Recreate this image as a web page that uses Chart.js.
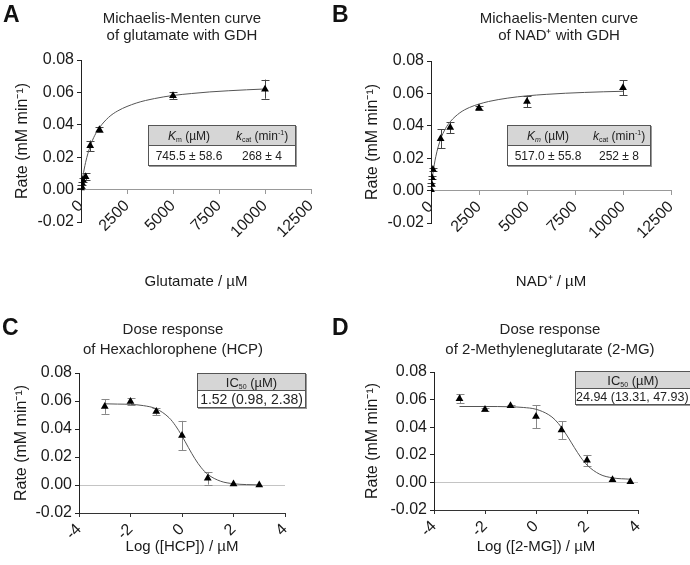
<!DOCTYPE html>
<html>
<head>
<meta charset="utf-8">
<script src="https://cdn.jsdelivr.net/npm/chart.js@4.4.1/dist/chart.umd.min.js"></script>
<style>
  body { margin: 0; background: #fff; font-family: "Liberation Sans", Arial, sans-serif; color: #222; }
  #wrap { position: relative; width: 690px; height: 565px; overflow: hidden; }
  .panel { position: absolute; }
  .letter { position: absolute; font-size: 23px; line-height: 22px; font-weight: bold; color: #111; }
  .ttl { position: absolute; width: 240px; text-align: center; font-size: 15px; color: #222; }
  table.stat { position: absolute; border-collapse: collapse; font-size: 12px; color: #222;
    box-shadow: 1px 1px 0 #999; }
  table.stat td { border: 1px solid #555; text-align: center; padding: 0; height: 19px; white-space: nowrap; }
  table.stat tr.hd td { background: #d6d6d6; border-right: none; border-left: none; }
  table.stat tr.hd td:first-child { border-left: 1px solid #555; }
  table.stat tr.hd td:last-child { border-right: 1px solid #555; }
  table.stat tr.val td { border-right: none; border-left: none; }
  table.stat tr.val td:first-child { border-left: 1px solid #555; }
  table.stat tr.val td:last-child { border-right: 1px solid #555; }
  table.stat sub { font-size: 7px; vertical-align: -2px; }
  table.stat sup { font-size: 7px; vertical-align: 5px; }
</style>
</head>
<body>
<div id="wrap">
  <div class="panel" style="left:0;top:0;width:345px;height:290px"><canvas id="chartA"></canvas></div>
  <div class="panel" style="left:345px;top:0;width:345px;height:290px"><canvas id="chartB"></canvas></div>
  <div class="panel" style="left:0;top:290px;width:345px;height:275px"><canvas id="chartC"></canvas></div>
  <div class="panel" style="left:345px;top:290px;width:345px;height:275px"><canvas id="chartD"></canvas></div>

  <div class="letter" style="left:3px;top:3px">A</div>
  <div class="letter" style="left:332px;top:3px">B</div>
  <div class="letter" style="left:2px;top:316px">C</div>
  <div class="letter" style="left:332px;top:316px">D</div>

  <div class="ttl" style="left:62px;top:9px;line-height:17px">Michaelis-Menten curve<br>of glutamate with GDH</div>
  <div class="ttl" style="left:439px;top:9px;line-height:17px">Michaelis-Menten curve<br>of NAD⁺ with GDH</div>
  <div class="ttl" style="left:53px;top:319px;line-height:20px">Dose response<br>of Hexachlorophene (HCP)</div>
  <div class="ttl" style="left:430px;top:319px;line-height:20px">Dose response<br>of 2-Methyleneglutarate (2-MG)</div>

  <table class="stat" style="left:148px;top:125px;width:148px">
    <tr class="hd"><td style="width:80px"><i>K</i><sub>m</sub> (µM)</td><td><i>k</i><sub>cat</sub> (min<sup>-1</sup>)</td></tr>
    <tr class="val"><td>745.5 ± 58.6</td><td>268 ± 4</td></tr>
  </table>
  <table class="stat" style="left:507px;top:125px;width:144px">
    <tr class="hd"><td style="width:80px"><i>K</i><sub><i>m</i></sub> (µM)</td><td><i>k</i><sub>cat</sub> (min<sup>-1</sup>)</td></tr>
    <tr class="val"><td>517.0 ± 55.8</td><td>252 ± 8</td></tr>
  </table>
  <table class="stat" style="left:197px;top:373px;width:109px;font-size:13px">
    <tr class="hd"><td style="height:16px">IC<sub>50</sub> (µM)</td></tr>
    <tr class="val"><td style="height:16px;font-size:14px">1.52 (0.98, 2.38)</td></tr>
  </table>
  <table class="stat" style="left:575px;top:371px;width:116px;font-size:13px">
    <tr class="hd"><td style="height:16px">IC<sub>50</sub> (µM)</td></tr>
    <tr class="val"><td style="height:15px;font-size:12.5px;text-align:left">24.94 (13.31, 47.93)</td></tr>
  </table>
</div>

<script>
// ---- Panel A: glutamate, Michaelis-Menten ----
const gluConc = [0, 25, 50, 100, 250, 500, 1000, 5000, 10000];
const gluRate = [0.001, 0.002, 0.004, 0.006, 0.008, 0.027, 0.037, 0.058, 0.062];
const gluErr  = [0, 0.001, 0.001, 0.001, 0.002, 0.0033, 0.0015, 0.002, 0.0059];
const gluFitX = [0, 100, 250, 500, 750, 1000, 1500, 2000, 3000, 4000, 5000, 6000, 7000, 8000, 9000, 10000];
const gluFitY = [0, 0.0079, 0.0168, 0.0268, 0.0335, 0.0382, 0.0446, 0.0486, 0.0534, 0.0562, 0.0581, 0.0593, 0.0603, 0.0610, 0.0616, 0.0621];

// ---- Panel B: NAD+, Michaelis-Menten ----
const nadConc = [0, 25, 50, 100, 500, 1000, 2500, 5000, 10000];
const nadRate = [0.0005, 0.004, 0.008, 0.013, 0.032, 0.039, 0.051, 0.055, 0.0635];
const nadErr  = [0, 0.001, 0.001, 0.001, 0.006, 0.0035, 0.001, 0.0035, 0.0046];
const nadFitX = [0, 100, 250, 500, 750, 1000, 1500, 2000, 2500, 3000, 4000, 5000, 6000, 7000, 8000, 9000, 10000];
const nadFitY = [0, 0.0105, 0.0210, 0.0317, 0.0382, 0.0425, 0.0480, 0.0513, 0.0534, 0.0550, 0.0571, 0.0585, 0.0594, 0.0601, 0.0606, 0.0610, 0.0613];

// ---- Panel C: HCP dose response ----
const hcpLog  = [-3, -2, -1, 0, 1, 2, 3];
const hcpRate = [0.056, 0.0597, 0.0525, 0.0353, 0.0048, 0.0007, 0.0000];
const hcpErr  = [0.0052, 0.0024, 0.0027, 0.0105, 0.0045, 0, 0];
const hcpFitX = [-3, -2.5, -2, -1.5, -1, -0.5, -0.25, 0, 0.25, 0.5, 0.75, 1, 1.5, 2, 2.5, 3];
const hcpFitY = [0.0580, 0.0578, 0.0576, 0.0567, 0.0544, 0.0480, 0.0423, 0.0350, 0.0267, 0.0188, 0.0123, 0.0076, 0.0027, 0.0009, 0.0003, 0.0001];

// ---- Panel D: 2-MG dose response ----
const mgLog  = [-3, -2, -1, 0, 1, 2, 3, 3.7];
const mgRate = [0.0606, 0.0528, 0.0555, 0.0477, 0.0379, 0.016, 0.0019, 0.0005];
const mgErr  = [0.0032, 0.0008, 0.0008, 0.0083, 0.0064, 0.0039, 0, 0];
const mgFitX = [-3, -2, -1, -0.5, 0, 0.5, 0.75, 1, 1.25, 1.5, 1.75, 2, 2.5, 3, 3.7];
const mgFitY = [0.0550, 0.0550, 0.0548, 0.0543, 0.0530, 0.0490, 0.0453, 0.0398, 0.0329, 0.0254, 0.0183, 0.0126, 0.0059, 0.0033, 0.0023];

const rateTitle = "Rate (mM min⁻¹)";

Chart.defaults.font.family = "'Liberation Sans', Arial, sans-serif";
Chart.defaults.color = "#1a1a1a";
Chart.defaults.animation = false;

const toXY = (xs, ys) => xs.map((x, i) => ({ x: x, y: ys[i] }));

// draws vertical error bars with caps, under the points
const errorBars = {
  id: "errorBars",
  beforeDatasetsDraw(chart) {
    const { ctx, scales: { x, y } } = chart;
    chart.data.datasets.forEach((ds) => {
      if (!ds.errors) return;
      ctx.save();
      ctx.strokeStyle = ds.errorColor;
      ctx.lineWidth = 1;
      ds.data.forEach((p, j) => {
        const e = ds.errors[j];
        if (!e) return;
        const px = Math.round(x.getPixelForValue(p.x)) + 0.5;
        const top = y.getPixelForValue(p.y + e);
        const bot = y.getPixelForValue(p.y - e);
        ctx.beginPath();
        ctx.moveTo(px, top); ctx.lineTo(px, bot);
        ctx.moveTo(px - 4, Math.round(top) + 0.5); ctx.lineTo(px + 4, Math.round(top) + 0.5);
        ctx.moveTo(px - 4, Math.round(bot) + 0.5); ctx.lineTo(px + 4, Math.round(bot) + 0.5);
        ctx.stroke();
      });
      ctx.restore();
    });
  },
};

function makePanel(id, o) {
  return new Chart(document.getElementById(id), {
    type: "scatter",
    data: {
      datasets: [
        {
          data: toXY(o.x, o.y),
          errors: o.err,
          errorColor: o.errColor,
          pointStyle: "triangle",
          pointRadius: 4.5,
          backgroundColor: "#000",
          borderColor: "#000",
          borderWidth: 0,
        },
        {
          data: toXY(o.fitX, o.fitY),
          showLine: true,
          pointRadius: 0,
          borderColor: "#555",
          borderWidth: 1,
          cubicInterpolationMode: "monotone",
        },
      ],
    },
    options: {
      responsive: true,
      maintainAspectRatio: false,
      layout: { padding: o.pad },
      plugins: { legend: { display: false }, tooltip: { enabled: false } },
      scales: {
        x: {
          type: "linear",
          axis: "x",
          min: o.xMin,
          max: o.xMax,
          position: o.xPos,
          border: { color: o.xBorder, width: 1 },
          grid: { drawOnChartArea: false, tickLength: 4, tickColor: o.xBorder },
          ticks: {
            stepSize: o.xStep, minRotation: 45, maxRotation: 45, padding: 3,
            font: { size: 16 }, callback: (v) => String(v),
          },
          title: { display: true, text: o.xTitle, font: { size: 15 }, padding: { top: 0, bottom: o.xTitlePad } },
          afterFit: (s) => { s.height = o.xHeight; },
        },
        y: {
          min: -0.02,
          max: 0.08,
          border: { color: "#222", width: 1 },
          grid: {
            drawOnChartArea: o.zeroLine,
            color: (c) => (c.tick && Math.abs(c.tick.value) < 1e-9 ? "#c4c4c4" : "rgba(0,0,0,0)"),
            tickColor: "#222",
            tickLength: 4,
          },
          ticks: { stepSize: 0.02, padding: 3, font: { size: 16 }, callback: (v) => v.toFixed(2) },
          title: { display: true, text: rateTitle, font: { size: 16 }, padding: { top: o.yTitlePad, bottom: 0 } },
          afterFit: (s) => { s.width = o.yWidth; },
        },
      },
    },
    plugins: [errorBars],
  });
}

makePanel("chartA", {
  x: gluConc, y: gluRate, err: gluErr, fitX: gluFitX, fitY: gluFitY, errColor: "#444",
  xMin: 0, xMax: 12500, xStep: 2500, xPos: { y: 0 }, xBorder: "#999",
  xTitle: "Glutamate / µM", xHeight: 101, xTitlePad: 0,
  yWidth: 81, yTitlePad: 13, zeroLine: false,
  pad: { top: 60, right: 34, bottom: 68, left: 0 },
});

makePanel("chartB", {
  x: nadConc, y: nadRate, err: nadErr, fitX: nadFitX, fitY: nadFitY, errColor: "#444",
  xMin: 0, xMax: 12500, xStep: 2500, xPos: { y: 0 }, xBorder: "#999",
  xTitle: "NAD⁺ / µM", xHeight: 100, xTitlePad: 0,
  yWidth: 86, yTitlePad: 18, zeroLine: false,
  pad: { top: 61, right: 19, bottom: 67, left: 0 },
});

makePanel("chartC", {
  x: hcpLog, y: hcpRate, err: hcpErr, fitX: hcpFitX, fitY: hcpFitY, errColor: "#888",
  xMin: -4, xMax: 4, xStep: 2, xPos: "bottom", xBorder: "#333",
  xTitle: "Log ([HCP]) / µM", xHeight: 52, xTitlePad: 9,
  yWidth: 79, yTitlePad: 12, zeroLine: true,
  pad: { top: 83, right: 60, bottom: 0, left: 0 },
});

makePanel("chartD", {
  x: mgLog, y: mgRate, err: mgErr, fitX: mgFitX, fitY: mgFitY, errColor: "#888",
  xMin: -4, xMax: 4, xStep: 2, xPos: "bottom", xBorder: "#333",
  xTitle: "Log ([2-MG]) / µM", xHeight: 55, xTitlePad: 9,
  yWidth: 89, yTitlePad: 18, zeroLine: true,
  pad: { top: 82, right: 52, bottom: 0, left: 0 },
});
</script>
</body>
</html>
